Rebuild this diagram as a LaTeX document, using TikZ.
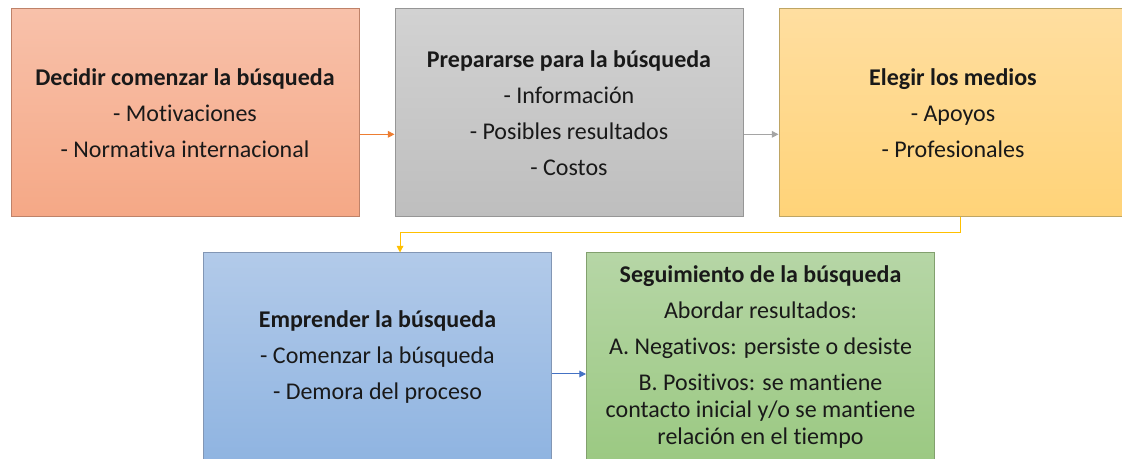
\documentclass[tikz,border=0pt]{standalone}
\usepackage{fontspec}
\setmainfont{Carlito}[Ligatures=NoCommon]
\usetikzlibrary{positioning}
\usetikzlibrary{arrows.meta}

\definecolor{naranja}{RGB}{237,125,49}
\definecolor{gris}{RGB}{165,165,165}
\definecolor{amarillo}{RGB}{255,192,0}
\definecolor{azul}{RGB}{68,114,196}

\begin{document}
\begin{tikzpicture}[
    x=0.75pt, y=-0.75pt,
    caja/.style={rectangle, minimum width=261pt, minimum height=156pt, align=center,
      font=\fontsize{18}{20}\selectfont, text=black!90, line width=0.75pt, inner sep=2pt},
    flecha/.style={line width=0.75pt, -{Triangle[length=5pt,width=5pt]}}
  ]

  \clip (0,0) rectangle (1122,459);
  \fill[white] (0,0) rectangle (1122,459);

  \node[caja, top color={rgb,255:red,248;green,193;blue,170}, bottom color={rgb,255:red,245;green,168;blue,134},
    draw={rgb,255:red,190;green,130;blue,105}] (decidir) at (185,113)
    {\textbf{Decidir comenzar la búsqueda}\\[7pt] - Motivaciones\\[7pt] - Normativa internacional};

  \node[caja, top color={rgb,255:red,210;green,210;blue,210}, bottom color={rgb,255:red,190;green,190;blue,190},
    draw={rgb,255:red,150;green,150;blue,150}, right=26.25pt of decidir] (preparar)
    {\textbf{Prepararse para la búsqueda}\\[7pt] - Información\\[7pt] - Posibles resultados\\[7pt] - Costos};

  \node[caja, top color={rgb,255:red,255;green,222;blue,160}, bottom color={rgb,255:red,255;green,211;blue,120},
    draw={rgb,255:red,190;green,165;blue,100}, right=26.25pt of preparar] (elegir)
    {\textbf{Elegir los medios}\\[7pt] - Apoyos\\[7pt] - Profesionales};

  \node[caja, top color={rgb,255:red,178;green,202;blue,233}, bottom color={rgb,255:red,143;green,180;blue,225},
    draw={rgb,255:red,130;green,150;blue,180}] (emprender) at (377.5,357)
    {\textbf{Emprender la búsqueda}\\[7pt] - Comenzar la búsqueda\\[7pt] - Demora del proceso};

  \node[caja, top color={rgb,255:red,182;green,214;blue,166}, bottom color={rgb,255:red,155;green,201;blue,130},
    draw={rgb,255:red,130;green,160;blue,110}, right=25.5pt of emprender] (seguimiento)
    {\textbf{Seguimiento de la búsqueda}\\[7pt] Abordar resultados:\\[7pt] A. Negativos: persiste o desiste\\[7pt]
     B. Positivos: se mantiene\\ contacto inicial y/o se mantiene\\ relación en el tiempo};

  \draw[flecha, naranja] ([yshift=-16pt]decidir.east) -- ([yshift=-16pt]preparar.west);
  \draw[flecha, gris] ([yshift=-16pt]preparar.east) -- ([yshift=-16pt]elegir.west);
  \draw[flecha, amarillo] ([xshift=5.6pt]elegir.south) -- ++(0,15) -| ([xshift=16.9pt]emprender.north);
  \draw[flecha, azul] ([yshift=-12.75pt]emprender.east) -- ([yshift=-12.75pt]seguimiento.west);

\end{tikzpicture}
\end{document}
